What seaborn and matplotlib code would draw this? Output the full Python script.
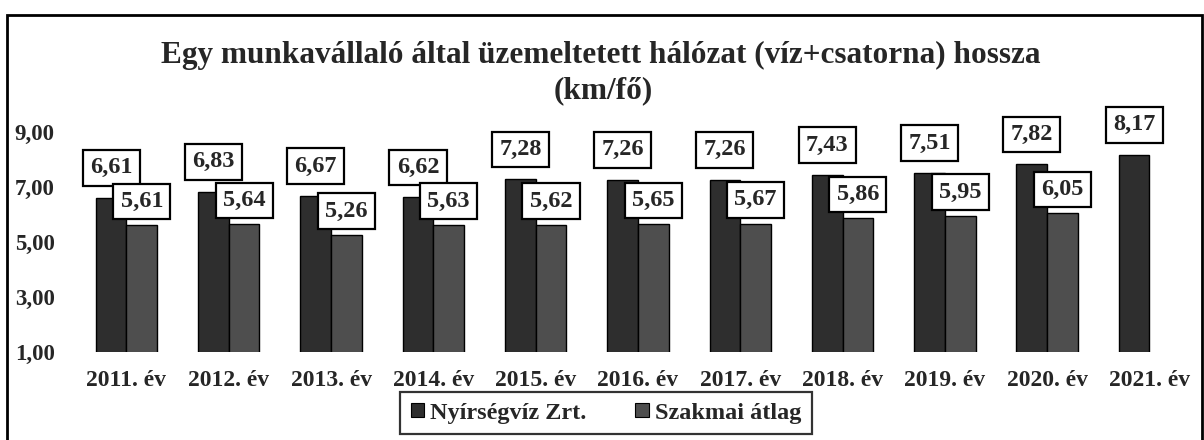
import numpy as np
import pandas as pd
import matplotlib
matplotlib.use("Agg")
import matplotlib.pyplot as plt
import seaborn as sns
from matplotlib.patches import Rectangle, Patch

# data
years = ["2011. év", "2012. év", "2013. év", "2014. év", "2015. év", "2016. év",
         "2017. év", "2018. év", "2019. év", "2020. év", "2021. év"]
nyirseg = [6.61, 6.83, 6.67, 6.62, 7.28, 7.26, 7.26, 7.43, 7.51, 7.82, 8.17]
szakmai = [5.61, 5.64, 5.26, 5.63, 5.62, 5.65, 5.67, 5.86, 5.95, 6.05, np.nan]
series = ["Nyírségvíz Zrt.", "Szakmai átlag"]
y_ticks = [1, 3, 5, 7, 9]
title_lines = ["Egy munkavállaló által üzemeltetett hálózat (víz+csatorna) hossza",
               "(km/fő)"]
colors = ["#2e2e2e", "#4e4e4e"]


def hu(v):
    return f"{v:.2f}".replace(".", ",")


df = pd.DataFrame({
    "Év": years * 2,
    "Érték": nyirseg + szakmai,
    "Sorozat": [series[0]] * len(years) + [series[1]] * len(years),
})

sns.set_theme(style="white")
plt.rcParams["font.family"] = ["Liberation Serif", "DejaVu Serif"]
plt.rcParams["font.weight"] = "bold"

W, H = 1204, 440
fig = plt.figure(figsize=(W / 100, H / 100), dpi=100)
ax = fig.add_axes([70 / W, 88 / H, (1195 - 70) / W, 220 / H])

sns.barplot(data=df, x="Év", y="Érték", hue="Sorozat", palette=colors,
            width=0.6, saturation=1, edgecolor="black", linewidth=1,
            legend=False, ax=ax)

ax.set_xlim(-0.552, 10.445)
ax.set_ylim(1, 9)
ax.set_yticks(y_ticks)
ax.set_yticklabels([hu(t) for t in y_ticks])
ax.tick_params(axis="y", length=0, pad=11, labelsize=16.5)
ax.tick_params(axis="x", length=0, pad=13, labelsize=17)
ax.set_xlabel("")
ax.set_ylabel("")
for s in ax.spines.values():
    s.set_visible(False)

# value labels in boxes
pads = [14, 9.5]
for i, cont in enumerate(ax.containers):
    labels = [hu(v) if np.isfinite(v) else "" for v in cont.datavalues]
    texts = ax.bar_label(cont, labels=labels, padding=pads[i], fontsize=17.5,
                         fontweight="bold",
                         bbox=dict(boxstyle="square,pad=0.3", facecolor="white",
                                   edgecolor="black", linewidth=1.6))
    for t in texts:
        t.set_zorder(5 + i)
        t.set_clip_on(False)

# title
fig.text(601 / W, 1 - 55 / H, title_lines[0], ha="center", va="center",
         fontsize=22.5, fontweight="bold")
fig.text(603 / W, 1 - 91 / H, title_lines[1], ha="center", va="center",
         fontsize=22.5, fontweight="bold")

# legend
handles = [Patch(facecolor=c, edgecolor="black", linewidth=0.8) for c in colors]
leg = fig.legend(handles, series, loc="center", bbox_to_anchor=(606 / W, 1 - 413 / H),
                 ncol=2, frameon=True, fancybox=False, edgecolor="black",
                 handlelength=0.55, handleheight=0.55, handletextpad=0.25,
                 columnspacing=2.0, borderpad=0.45, borderaxespad=0,
                 prop=dict(size=17.5, weight="bold"))
leg.get_frame().set_linewidth(1.6)

# outer chart frame
fig.patches.append(Rectangle((7 / W, -0.05), (1202 - 7) / W, 1.05 - 15 / H,
                             transform=fig.transFigure, fill=False,
                             edgecolor="black", linewidth=2))

fig.savefig("out.png", dpi=100)
